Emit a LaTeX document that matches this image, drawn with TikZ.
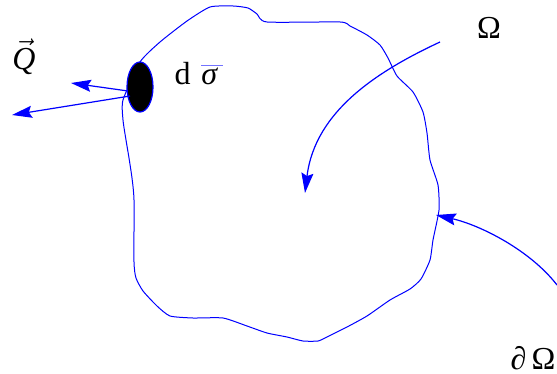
\documentclass[tikz,border=0pt]{standalone}
\usepackage{fontspec}
\setmainfont{Liberation Serif}
\usepackage{tikz}
\usetikzlibrary{arrows.meta, shapes.geometric}

\tikzset{
  flow/.style={draw=blue, line width=0.6pt, -{Stealth[length=10pt,width=6pt,inset=1.5pt]}},
  lbl/.style={font=\fontsize{16}{18}\selectfont, inner sep=0pt}
}

\begin{document}
\begin{tikzpicture}[x=0.5pt, y=-0.5pt]
        \useasboundingbox (0,0) rectangle (557,374);

        % the region boundary
        \draw[blue, line width=0.5pt, line join=round] plot[smooth cycle, tension=0.35] coordinates {
          (140,62) (160,42) (187,21) (210,7) (233,6) (248,8) (257,14) (267,22)
          (340,22) (350,26) (367,35) (380,45) (388,58) (397,76) (413,92)
          (423,112) (427,133) (430,160) (438,185) (439,210) (433,240)
          (430,260) (421,279) (410,289) (390,300) (367,316) (347,327)
          (327,337) (318,341) (303,341) (287,337) (267,333) (247,326)
          (223,318) (193,318) (170,316) (157,306) (143,291) (136,278)
          (134,262) (134,200) (132,178) (129,158) (126,140) (123,120) (123,100)};

        % surface element
        \node[ellipse, draw=blue, fill=black, line width=0.6pt,
              minimum width=13pt, minimum height=25pt, inner sep=0pt] (dsig) at (140,87) {};
        \node[lbl] (dsiglbl) at (199,74) {d\,\,{\color{blue!55}$\overline{\color{black}\hbox{\textit{σ}\,}}$}};

        % flux vectors
        \coordinate (fa) at (128,91);
        \coordinate (fb) at (130,96);
        \coordinate (qa) at (71,83);
        \coordinate (qb) at (12,115);
        \draw[flow] (fa) -- (qa);
        \draw[flow] (fb) -- (qb);
        \node[lbl] (Q) at (24,57) {$\vec{\hbox{\textit{Q}}}$};

        % interior
        \coordinate (os) at (440,42);
        \coordinate (ot) at (305,193);
        \draw[flow] (os) .. controls (380,70) and (315,110) .. (ot);
        \node[lbl] (omega) at (489,28) {Ω};

        % boundary
        \coordinate (bs) at (557,285);
        \coordinate (bt) at (436,215);
        \draw[flow] (bs) .. controls (530,250) and (480,225) .. (bt);
        \node[lbl] (bomega) at (533,358) {\textit{∂}\,Ω};
\end{tikzpicture}
\end{document}
